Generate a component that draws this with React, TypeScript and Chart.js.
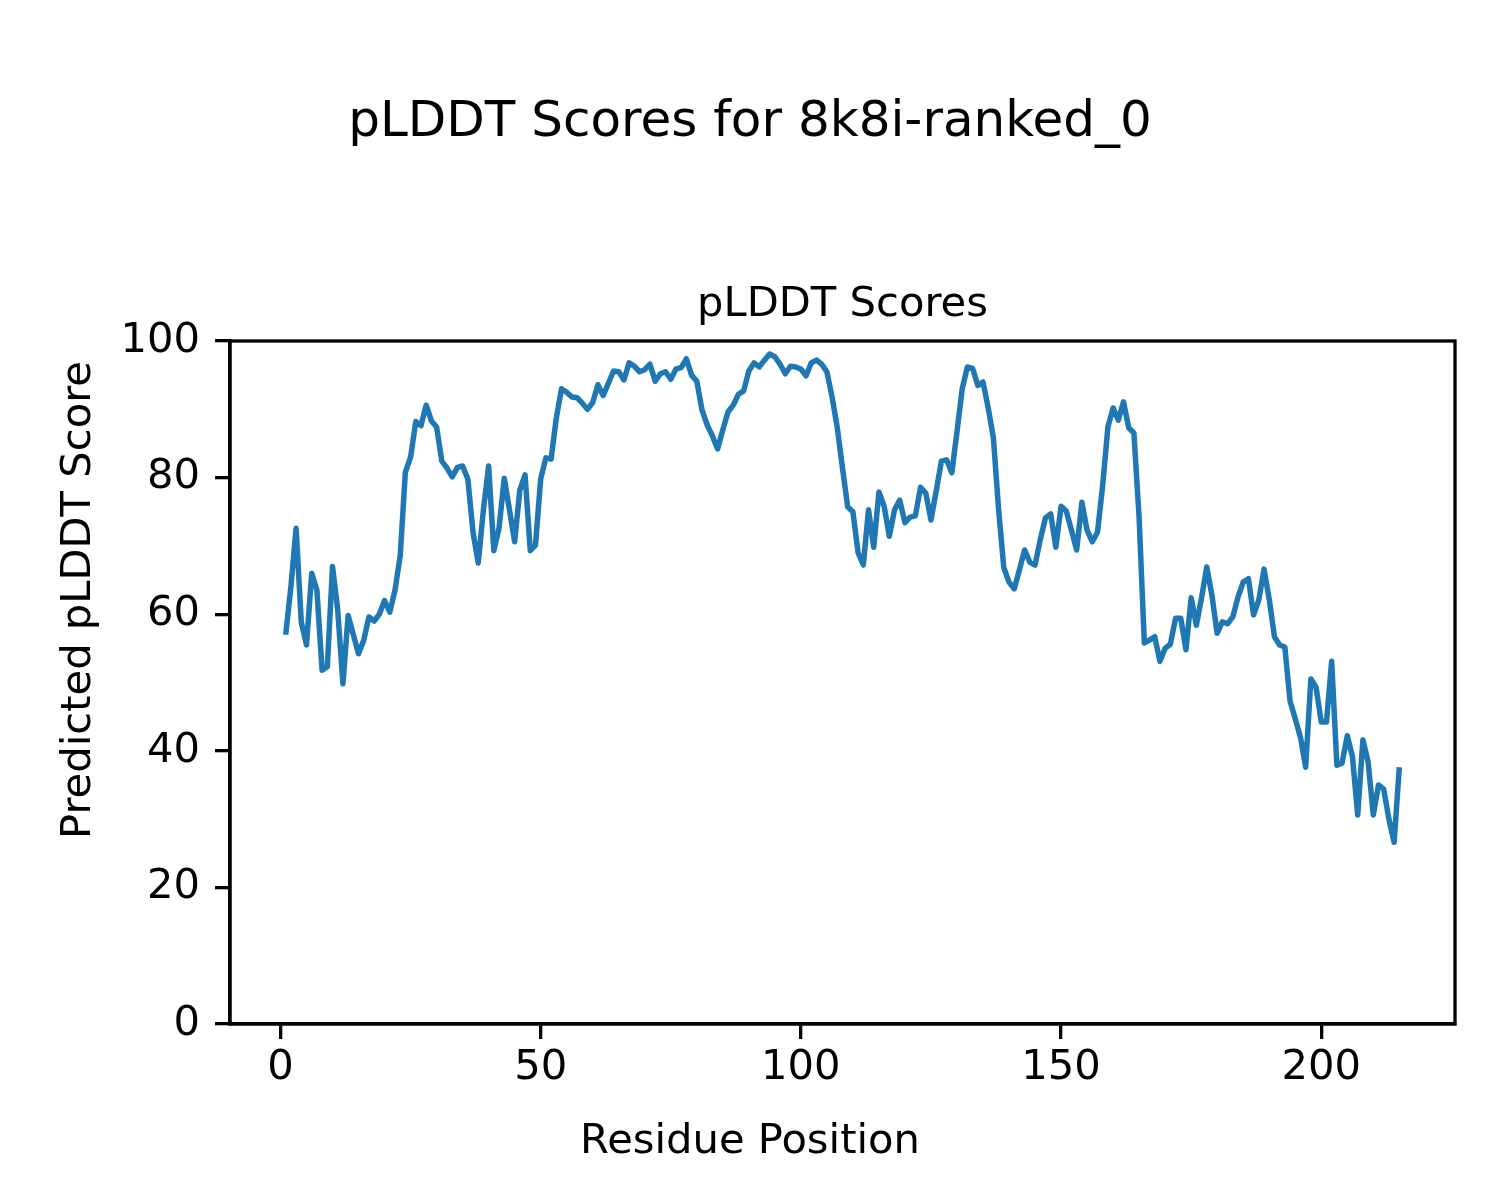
import React, { useEffect, useRef } from "react";
import { Chart, registerables } from "chart.js";

Chart.register(...registerables);

const chartTitle = "pLDDT Scores for 8k8i-ranked_0";
const axesTitle = "pLDDT Scores";
const xLabel = "Residue Position";
const yLabel = "Predicted pLDDT Score";

const xTickValues = [0, 50, 100, 150, 200];
const yTickValues = [0, 20, 40, 60, 80, 100];

const scores = [
  57.0, 64.0, 72.6, 58.8, 55.5, 66.0, 63.5, 51.8, 52.3, 67.0,
  60.6, 49.8, 59.8, 57.0, 54.2, 56.2, 59.6, 59.0, 60.0, 62.0,
  60.3, 63.5, 68.5, 80.8, 83.0, 88.2, 87.6, 90.6, 88.3, 87.4,
  82.4, 81.4, 80.1, 81.5, 81.7, 79.8, 72.0, 67.5, 75.3, 81.7,
  69.3, 72.6, 79.9, 75.3, 70.6, 78.2, 80.4, 69.3, 70.1, 79.8,
  82.9, 82.7, 88.7, 93.0, 92.5, 91.8, 91.7, 90.9, 90.0, 91.0,
  93.6, 92.0, 93.8, 95.6, 95.5, 94.3, 96.8, 96.3, 95.5, 95.8,
  96.6, 94.1, 95.2, 95.5, 94.4, 95.9, 96.1, 97.4, 95.0, 94.1,
  89.9, 87.7, 86.1, 84.2, 87.0, 89.6, 90.6, 92.2, 92.7, 95.6,
  96.8, 96.2, 97.2, 98.1, 97.7, 96.6, 95.2, 96.3, 96.2, 95.9,
  94.9, 96.8, 97.2, 96.6, 95.5, 91.8, 87.3, 81.4, 75.7, 75.0,
  69.0, 67.2, 75.3, 69.8, 77.9, 75.8, 71.4, 75.3, 76.7, 73.4,
  74.2, 74.4, 78.6, 77.7, 73.8, 78.0, 82.4, 82.6, 80.7, 86.7,
  93.0, 96.2, 96.0, 93.5, 94.0, 90.2, 85.8, 75.3, 66.8, 64.7,
  63.7, 66.5, 69.4, 67.6, 67.2, 70.9, 74.1, 74.7, 69.8, 75.8,
  75.1, 72.3, 69.4, 76.4, 72.3, 70.6, 72.0, 78.9, 87.4, 90.2,
  88.4, 91.1, 87.3, 86.5, 74.1, 55.8, 56.2, 56.7, 53.1, 55.0,
  55.6, 59.4, 59.4, 54.8, 62.4, 58.4, 62.4, 66.9, 62.7, 57.2,
  58.9, 58.6, 59.6, 62.5, 64.7, 65.2, 59.9, 62.1, 66.6, 62.2,
  56.7, 55.5, 55.2, 47.3, 44.7, 42.0, 37.6, 50.5, 49.3, 44.2,
  44.2, 53.1, 37.9, 38.2, 42.2, 39.1, 30.6, 41.6, 38.4, 30.6,
  35.0, 34.4, 30.0, 26.6, 37.6,
];

const residues = scores.map((_, i) => i + 1);

const FONT = "'DejaVu Sans', sans-serif";

const textPlugin = {
  id: "mplText",
  beforeDraw(chart: any) {
    const ctx = chart.ctx;
    ctx.save();
    ctx.fillStyle = "#ffffff";
    ctx.fillRect(0, 0, chart.width, chart.height);
    ctx.restore();
  },
  afterDraw(chart: any) {
    const ctx = chart.ctx;
    const area = chart.chartArea;
    ctx.save();
    // frame
    ctx.strokeStyle = "#000000";
    ctx.lineWidth = 3.3;
    ctx.strokeRect(area.left, area.top, area.right - area.left, area.bottom - area.top);
    ctx.fillStyle = "#000000";
    ctx.textAlign = "center";
    ctx.textBaseline = "alphabetic";
    ctx.font = `50px ${FONT}`;
    ctx.fillText(chartTitle, 750, 136);
    ctx.font = `41.67px ${FONT}`;
    ctx.fillText(axesTitle, (area.left + area.right) / 2, 316);
    ctx.fillText(xLabel, 750, 1153);
    ctx.translate(90, 600);
    ctx.rotate(-Math.PI / 2);
    ctx.fillText(yLabel, 0, 0);
    ctx.restore();
  },
};

export default function App() {
  const ref = useRef<HTMLCanvasElement | null>(null);

  useEffect(() => {
    if (!ref.current) return;
    const chart = new Chart(ref.current, {
      type: "line",
      data: {
        datasets: [
          {
            label: axesTitle,
            data: residues.map((r, i) => ({ x: r, y: scores[i] })),
            borderColor: "#1f77b4",
            borderWidth: 5.5,
            pointRadius: 0,
            tension: 0,
            fill: false,
            borderJoinStyle: "round",
            borderCapStyle: "butt",
          },
        ],
      },
      options: {
        animation: false,
        responsive: false,
        devicePixelRatio: 1,
        layout: { padding: { left: 0, right: 45, top: 341, bottom: 0 } },
        plugins: {
          legend: { display: false },
          title: { display: false },
          tooltip: { enabled: false },
        },
        scales: {
          x: {
            type: "linear",
            min: -9.7,
            max: 225.7,
            afterFit: (s: any) => {
              s.height = 176;
            },
            afterBuildTicks: (s: any) => {
              s.ticks = xTickValues.map((v) => ({ value: v }));
            },
            grid: {
              display: true,
              drawOnChartArea: false,
              drawTicks: true,
              tickLength: 15,
              color: "#000000",
              lineWidth: 3.3,
            },
            border: { display: true, color: "#000000", width: 3.3 },
            ticks: {
              color: "#000000",
              font: { family: FONT, size: 41.67 },
              padding: 4,
              maxRotation: 0,
              autoSkip: false,
            },
          },
          y: {
            type: "linear",
            min: 0,
            max: 100,
            afterFit: (s: any) => {
              s.width = 230;
            },
            afterBuildTicks: (s: any) => {
              s.ticks = yTickValues.map((v) => ({ value: v }));
            },
            grid: {
              display: true,
              drawOnChartArea: false,
              drawTicks: true,
              tickLength: 15,
              color: "#000000",
              lineWidth: 3.3,
            },
            border: { display: true, color: "#000000", width: 3.3 },
            ticks: {
              color: "#000000",
              font: { family: FONT, size: 41.67 },
              padding: 15,
              autoSkip: false,
            },
          },
        },
      },
      plugins: [textPlugin],
    });
    return () => chart.destroy();
  }, []);

  return (
    <div style={{ position: "absolute", left: 0, top: 0, width: 1500, height: 1200 }}>
      <canvas ref={ref} width={1500} height={1200} />
    </div>
  );
}
